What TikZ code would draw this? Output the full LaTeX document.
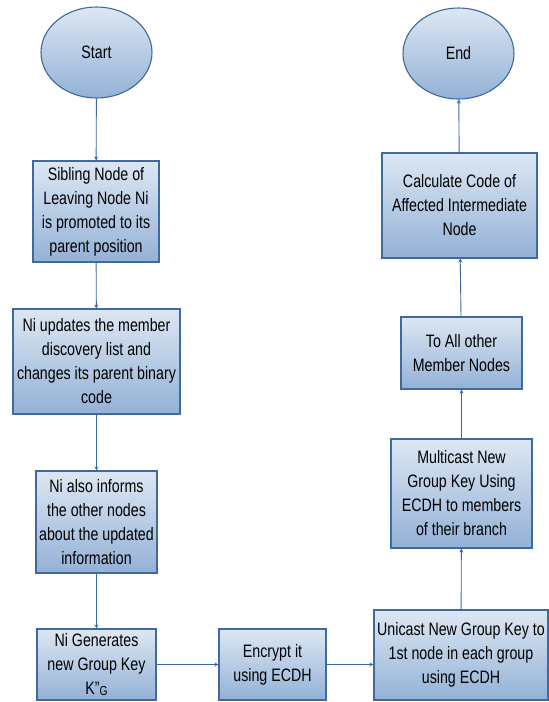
\documentclass[tikz,border=0pt]{standalone}
\usepackage{fontspec}
\setmainfont{Liberation Sans}[FakeStretch=0.79]
\usetikzlibrary{arrows.meta,shapes.geometric}
\definecolor{topc}{HTML}{DDE7F3}
\definecolor{botc}{HTML}{93B1D6}
\definecolor{edgec}{HTML}{3E6A9E}
\definecolor{linec}{HTML}{3B67A0}
\tikzset{
  base/.style={draw=edgec, line width=1.1pt, top color=topc, bottom color=botc,
    align=center, inner sep=1pt, font=\fontsize{18}{24}\selectfont, text=black},
  proc/.style={base, rectangle},
  term/.style={base, ellipse, minimum width=111pt, minimum height=91pt},
  conn/.style={draw=linec, line width=0.9pt, -{Stealth[length=4pt,width=4pt]}}
}
\begin{document}
\begin{tikzpicture}[x=1pt,y=-1pt]
\useasboundingbox (0,0) rectangle (549,702);
\node[term] (start) at (96.5,52.5) {Start};
\node[term] (end) at (458.5,53.5) {End};
\node[proc, minimum width=126pt, minimum height=101pt] (b1) at (96,211.5)
  {Sibling Node of\\Leaving Node Ni\\is promoted to its\\parent position};
\node[proc, minimum width=167pt, minimum height=105pt] (b2) at (96.5,361.5)
  {Ni updates the member\\discovery list and\\changes its parent binary\\code};
\node[proc, minimum width=121pt, minimum height=102pt] (b3) at (96.5,522)
  {Ni also informs\\the other nodes\\about the updated\\information};
\node[proc, minimum width=119pt, minimum height=71pt] (b4) at (96.5,664.5)
  {Ni Generates\\new Group Key\\K"\raisebox{-1.5pt}{\fontsize{13}{13}\selectfont G}};
\node[proc, minimum width=107pt, minimum height=71pt] (enc) at (272.5,664.5)
  {Encrypt it\\using ECDH};
\node[proc, minimum width=174pt, minimum height=90pt] (uni) at (461,655)
  {Unicast New Group Key to\\1st node in each group\\using ECDH};
\node[proc, minimum width=141pt, minimum height=109pt] (multi) at (461.5,493.5)
  {Multicast New\\Group Key Using\\ECDH to members\\of their branch};
\node[proc, minimum width=121pt, minimum height=72pt] (toall) at (461.5,353)
  {To All other\\Member Nodes};
\node[proc, minimum width=155pt, minimum height=105pt] (calc) at (459.5,205.5)
  {Calculate Code of\\Affected Intermediate\\Node};
\draw[conn] (start) -- (b1);
\draw[conn] (b1) -- (b2);
\draw[conn] (b2) -- (b3);
\draw[conn] (b3) -- (b4);
\draw[conn] (b4) -- (enc);
\draw[conn] (enc.east) -- (enc.east -| uni.west);
\draw[conn] (uni) -- (multi);
\draw[conn] (multi) -- (toall);
\draw[conn] (toall) -- (calc);
\draw[conn] (calc) -- (end);
\end{tikzpicture}
\end{document}
